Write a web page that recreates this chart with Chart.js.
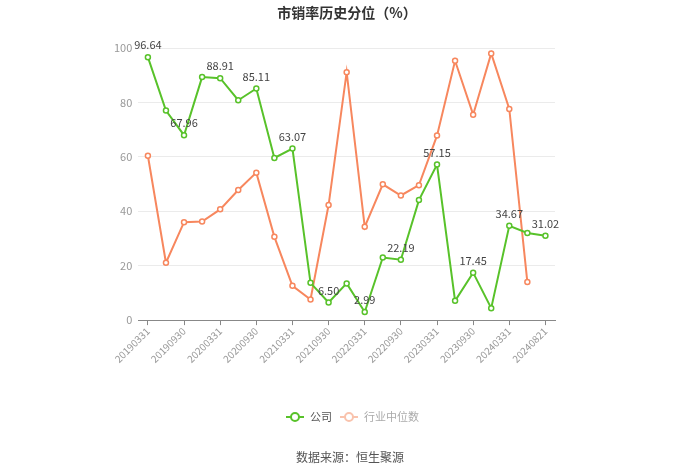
<!DOCTYPE html>
<html><head><meta charset="utf-8">
<script src="https://cdn.jsdelivr.net/npm/chart.js@4"></script>
<style>html,body{margin:0;padding:0;background:#fff}#wrap{width:700px;height:473px}</style>
</head><body><div id="wrap"><canvas id="c" width="700" height="473"></canvas></div>
<script>
const dates = ['20190331','20190630','20190930','20191231','20200331','20200630','20200930','20201231','20210331','20210630','20210930','20211231','20220331','20220630','20220930','20221231','20230331','20230630','20230930','20231231','20240331','20240630','20240821'];
const company = [96.64,77.0,67.96,89.3,88.91,80.8,85.11,59.6,63.07,13.7,6.50,13.5,2.99,23.0,22.19,44.1,57.15,7.1,17.45,4.4,34.67,32.0,31.02];
const industry = [60.4,21.1,36.0,36.2,40.7,47.8,54.2,30.6,12.6,7.6,42.3,91.1,34.3,49.9,45.8,49.6,67.8,95.3,75.5,98.0,77.6,14.0];
const tickIdx = [0,2,4,6,8,10,12,14,16,18,20,22];
const labelIdx = [0,2,4,6,8,10,12,14,16,18,20,22];
const yTicks = [0,20,40,60,80,100];
const seriesNames = ['公司','行业中位数'];
const title = '市销率历史分位（%）';
const source = '数据来源：恒生聚源';

const GREEN = '#58c22a', ORANGE = '#f7875e';
const FONT = '"Noto Sans CJK SC","Noto Sans",sans-serif';

const extras = {
  id:'extras',
  afterDatasetsDraw(chart){
    const ctx = chart.ctx;
    const meta = chart.getDatasetMeta(0);
    ctx.save();
    ctx.font = '11px ' + FONT;
    ctx.fillStyle = '#444';
    ctx.textAlign = 'center';
    ctx.textBaseline = 'middle';
    labelIdx.forEach(i=>{
      const p = meta.data[i];
      ctx.fillText(company[i].toFixed(2), p.x, p.y - 12);
    });
    ctx.restore();
  },
  afterDraw(chart){
    const ctx = chart.ctx;
    ctx.save();
    ctx.font = 'bold 14px ' + FONT;
    ctx.fillStyle = '#333';
    ctx.textAlign = 'center';
    ctx.textBaseline = 'middle';
    ctx.fillText(title, 347, 13);
    // legend
    const ly = 417;
    const items = [
      {x:286, color:GREEN, text:seriesNames[0], tc:'#555'},
      {x:340, color:'#f9c3ad', text:seriesNames[1], tc:'#aaa'}
    ];
    ctx.font = '11px ' + FONT;
    ctx.textAlign = 'left';
    items.forEach(it=>{
      ctx.strokeStyle = it.color; ctx.lineWidth = 2;
      ctx.beginPath(); ctx.moveTo(it.x, ly); ctx.lineTo(it.x+18, ly); ctx.stroke();
      ctx.beginPath(); ctx.arc(it.x+9, ly, 4, 0, Math.PI*2);
      ctx.fillStyle = '#fff'; ctx.fill(); ctx.stroke();
      ctx.fillStyle = it.tc;
      ctx.fillText(it.text, it.x+24, ly);
    });
    ctx.font = '12px ' + FONT;
    ctx.fillStyle = '#555';
    ctx.textAlign = 'center';
    ctx.fillText(source, 350, 457);
    ctx.restore();
  }
};

new Chart(document.getElementById('c'), {
  type:'line',
  data:{
    datasets:[
      {label:seriesNames[0], data:company.map((y,i)=>({x:i,y})), borderColor:GREEN, backgroundColor:'#fff', borderWidth:2, pointRadius:2.5, pointBorderWidth:1.5, pointBackgroundColor:'#fff', pointBorderColor:GREEN, tension:0, order:1},
      {label:seriesNames[1], data:industry.map((y,i)=>({x:i,y})), borderColor:ORANGE, backgroundColor:'#fff', borderWidth:2, pointRadius:2.5, pointBorderWidth:1.5, pointBackgroundColor:'#fff', pointBorderColor:ORANGE, tension:0, order:2}
    ]
  },
  options:{
    responsive:false, animation:false,
    layout:{padding:{left:108, right:145, top:48, bottom:108}},
    plugins:{legend:{display:false}, title:{display:false}, tooltip:{enabled:false}},
    scales:{
      x:{type:'linear', min:-0.53, max:22.53,
        afterBuildTicks(s){ s.ticks = tickIdx.map(v=>({value:v})); },
        grid:{display:true, drawOnChartArea:false, drawTicks:true, tickLength:5, color:'#888'},
        border:{display:true, color:'#888'},
        ticks:{autoSkip:false, minRotation:45, maxRotation:45, color:'#999', font:{size:10, family:FONT}, padding:0,
          callback:(v)=>dates[v]}
      },
      y:{min:0, max:100,
        afterBuildTicks(s){ s.ticks = yTicks.map(v=>({value:v})); },
        grid:{color:'#ebebeb', drawTicks:false},
        border:{display:false},
        ticks:{color:'#999', font:{size:11, family:FONT}, padding:6}
      }
    }
  },
  plugins:[extras]
});
</script></body></html>
